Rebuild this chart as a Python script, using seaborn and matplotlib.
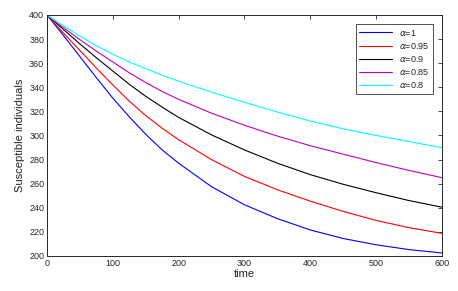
import numpy as np
import pandas as pd
import matplotlib
matplotlib.use("Agg")
import matplotlib.pyplot as plt
import seaborn as sns

# time points and curves
time = [0, 25, 50, 75, 100, 125, 150, 175, 200, 250, 300, 350, 400, 450, 500, 550, 600]
s_a1 = [400, 383, 365.5, 348, 331, 315.5, 301, 288, 277, 257.5, 242.5, 231, 221.6, 214.5, 209.3, 205.3, 202.5]
s_a095 = [400, 385, 370.5, 356, 342, 328.5, 316.5, 306, 296.5, 280, 266, 255, 245.5, 237, 229.5, 223.5, 218.8]
s_a09 = [400, 388, 376, 364.5, 353.5, 342.5, 332.5, 323.5, 315, 300.5, 288, 277, 267.5, 259.5, 252.5, 246, 240.5]
s_a085 = [400, 389.5, 379.5, 370, 361, 352, 344, 336.5, 330, 318.5, 308.5, 299.5, 291.5, 284.5, 277.5, 271, 265]
s_a08 = [400, 391, 382.5, 374.5, 367.5, 361, 355.5, 350, 345, 336, 327.5, 319.5, 312, 305.5, 300, 295, 289.8]

labels = [r"$\alpha$=1", r"$\alpha$=0.95", r"$\alpha$=0.9", r"$\alpha$=0.85", r"$\alpha$=0.8"]
colors = ["#0000FF", "#FF0000", "#000000", "#BF00BF", "#00FFFF"]

series = [s_a1, s_a095, s_a09, s_a085, s_a08]
df = pd.concat(
    [pd.DataFrame({"time": time, "S": s, "alpha": lab}) for s, lab in zip(series, labels)],
    ignore_index=True,
)

sns.set_style("white")
plt.rcParams["font.family"] = ["Liberation Sans", "DejaVu Sans"]

fig = plt.figure(figsize=(4.58, 2.91), dpi=100)
ax = fig.add_axes([0.1026, 0.1203, 0.8624, 0.8282])

sns.lineplot(
    data=df, x="time", y="S", hue="alpha",
    palette=dict(zip(labels, colors)), linewidth=0.8, ax=ax,
)

ax.set_xlim(0, 600)
ax.set_ylim(200, 400)
ax.set_xticks(range(0, 601, 100))
ax.set_yticks(range(200, 401, 20))
ax.tick_params(direction="in", length=3, width=0.6, top=True, right=True,
               labelsize=6.5, pad=2, colors="#262626")
for sp in ax.spines.values():
    sp.set_linewidth(0.7)
    sp.set_color("#262626")

ax.set_xlabel("time", fontsize=8, labelpad=1)
ax.set_ylabel("Susceptible individuals", fontsize=8, labelpad=3)

leg = ax.legend(loc="upper right", fontsize=6.5, frameon=True, fancybox=False,
                edgecolor="black", handlelength=3.6, borderaxespad=1.0,
                labelspacing=0.35, borderpad=0.4)
leg.get_frame().set_linewidth(0.6)

fig.savefig("out.png", dpi=100)
